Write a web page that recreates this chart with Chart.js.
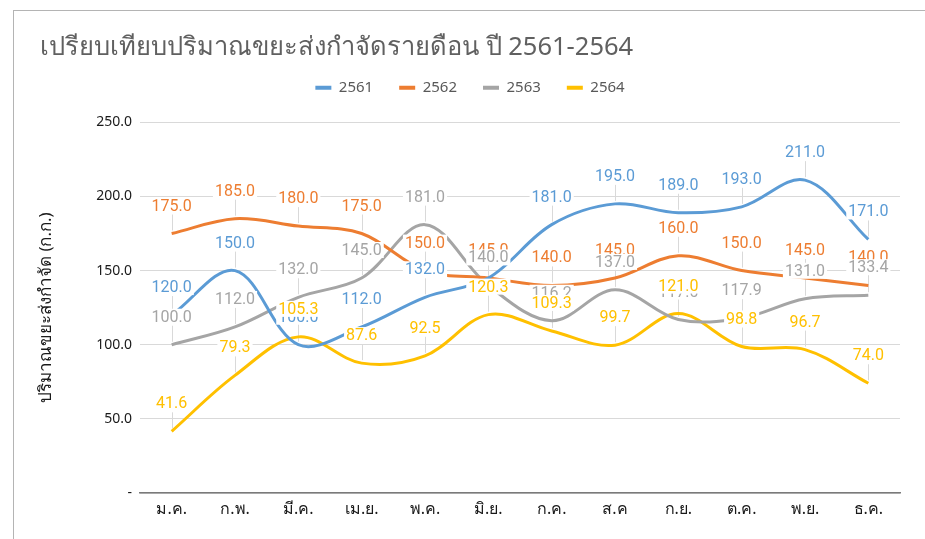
<!DOCTYPE html>
<html>
<head>
<meta charset="utf-8">
<script src="https://cdn.jsdelivr.net/npm/chart.js@4.4.1/dist/chart.umd.min.js"></script>
<style>
  html, body { margin: 0; padding: 0; background: #fff; }
  #wrap { width: 925px; height: 539px; }
</style>
</head>
<body>
<div id="wrap"><canvas id="wasteChart" width="925" height="539"></canvas></div>
<script>
// months (Thai abbreviations) and yearly series
const months = ['ม.ค.', 'ก.พ.', 'มี.ค.', 'เม.ย.', 'พ.ค.', 'มิ.ย.', 'ก.ค.', 'ส.ค', 'ก.ย.', 'ต.ค.', 'พ.ย.', 'ธ.ค.'];
const years = ['2561', '2562', '2563', '2564'];
const y2561 = [120.0, 150.0, 100.0, 112.0, 132.0, 145.0, 181.0, 195.0, 189.0, 193.0, 211.0, 171.0];
const y2562 = [175.0, 185.0, 180.0, 175.0, 150.0, 145.0, 140.0, 145.0, 160.0, 150.0, 145.0, 140.0];
const y2563 = [100.0, 112.0, 132.0, 145.0, 181.0, 140.0, 116.2, 137.0, 117.0, 117.9, 131.0, 133.4];
const y2564 = [41.6, 79.3, 105.3, 87.6, 92.5, 120.3, 109.3, 99.7, 121.0, 98.8, 96.7, 74.0];
const colors = ['#5B9BD5', '#ED7D31', '#A5A5A5', '#FFC000'];

const thaiFont = "'Noto Sans', Tahoma, sans-serif";

function makeSet(label, values, color) {
    return {
        label: label,
        data: values,
        borderColor: color,
        backgroundColor: color,
        borderWidth: 3,
        pointRadius: 0,
        pointHoverRadius: 0,
        tension: 0.35,
        fill: false
    };
}

// outer frame of the chart object
const framePlugin = {
    id: 'frame',
    beforeDraw(chart) {
        const ctx = chart.ctx;
        ctx.save();
        ctx.fillStyle = '#fff';
        ctx.fillRect(0, 0, chart.width, chart.height);
        ctx.strokeStyle = '#b4b4b4';
        ctx.lineWidth = 1;
        ctx.strokeRect(13.5, 10.5, chart.width + 20, chart.height + 20);
        ctx.restore();
    }
};

// data labels sit ~28px above each point, with a leader line down to it
const LABEL_OFFSET = 28;
const labelPlugin = {
    id: 'valueLabels',
    beforeDatasetsDraw(chart) {
        const ctx = chart.ctx;
        ctx.save();
        ctx.strokeStyle = '#d9d9d9';
        ctx.lineWidth = 1;
        chart.data.datasets.forEach((ds, i) => {
            chart.getDatasetMeta(i).data.forEach(pt => {
                const x = Math.round(pt.x) + 0.5;
                ctx.beginPath();
                ctx.moveTo(x, pt.y - LABEL_OFFSET + 9);
                ctx.lineTo(x, pt.y - 3);
                ctx.stroke();
            });
        });
        ctx.restore();
    },
    afterDatasetsDraw(chart) {
        const ctx = chart.ctx;
        ctx.save();
        ctx.font = '16px Roboto';
        ctx.textAlign = 'center';
        ctx.textBaseline = 'middle';
        chart.data.datasets.forEach((ds, i) => {
            chart.getDatasetMeta(i).data.forEach((pt, j) => {
                const txt = ds.data[j].toFixed(1);
                const w = ctx.measureText(txt).width + 4;
                const ly = pt.y - LABEL_OFFSET;
                ctx.fillStyle = '#fff';
                ctx.fillRect(pt.x - w / 2, ly - 8, w, 16);
                ctx.fillStyle = ds.borderColor;
                ctx.fillText(txt, pt.x, ly + 1);
            });
        });
        ctx.restore();
    }
};

const ctx = document.getElementById('wasteChart').getContext('2d');
const wasteChart = new Chart(ctx, {
    type: 'line',
    data: {
        labels: months,
        datasets: [
            makeSet(years[0], y2561, colors[0]),
            makeSet(years[1], y2562, colors[1]),
            makeSet(years[2], y2563, colors[2]),
            makeSet(years[3], y2564, colors[3])
        ]
    },
    options: {
        responsive: false,
        animation: false,
        layout: { padding: { left: 40, right: 25, top: 0, bottom: 0 } },
        plugins: {
            tooltip: { enabled: false },
            title: {
                display: true,
                text: 'เปรียบเทียบปริมาณขยะส่งกำจัดรายดือน ปี 2561-2564',
                align: 'start',
                color: '#606060',
                font: { family: thaiFont, size: 25.5, weight: 'normal', lineHeight: 1.15 },
                padding: { top: 33, bottom: -8 }
            },
            legend: {
                position: 'top',
                align: 'center',
                labels: {
                    boxWidth: 16,
                    boxHeight: 4,
                    padding: 26,
                    color: '#595959',
                    font: { family: thaiFont, size: 15 },
                    generateLabels: function(chart) {
                        return Chart.defaults.plugins.legend.labels.generateLabels(chart)
                            .map(item => Object.assign(item, { lineWidth: 0 }));
                    }
                }
            },
            // empty spacer between the legend and the plot area
            subtitle: {
                display: true,
                text: '',
                weight: 500,
                font: { size: 10 },
                padding: { top: 5, bottom: 0 }
            }
        },
        scales: {
            x: {
                offset: true,
                grid: { display: false, drawTicks: false },
                border: { display: true, color: '#7a7a7a', width: 1.5 },
                ticks: {
                    color: '#1a1a1a',
                    padding: 7,
                    font: { family: thaiFont, size: 16 }
                },
                afterFit: function(scale) { scale.height = 46; }
            },
            y: {
                min: 0,
                max: 250,
                grid: { color: '#d9d9d9', lineWidth: 1, drawTicks: false },
                border: { display: false },
                ticks: {
                    stepSize: 50,
                    padding: 8,
                    color: '#1a1a1a',
                    font: { family: thaiFont, size: 14 },
                    callback: function(value) {
                        return value === 0 ? '-' : value.toFixed(1);
                    }
                },
                title: {
                    display: true,
                    text: 'ปริมาณขยะส่งกำจัด (ก.ก.)',
                    color: '#1a1a1a',
                    font: { family: thaiFont, size: 17 },
                    padding: { top: -4, bottom: 0 }
                },
                afterFit: function(scale) { scale.width = 100; }
            }
        }
    },
    plugins: [framePlugin, labelPlugin]
});
</script>
</body>
</html>
